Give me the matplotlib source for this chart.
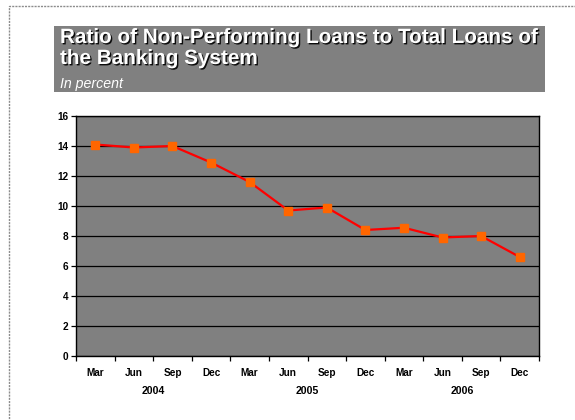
import numpy as np
import matplotlib
matplotlib.use("Agg")
import matplotlib.pyplot as plt
import matplotlib.patheffects as pe
from matplotlib.patches import Rectangle
from matplotlib.ticker import FixedLocator, MultipleLocator

plt.rcParams['font.family'] = ['Liberation Sans', 'DejaVu Sans']

# quarterly NPL ratio, percent
quarters = ["Mar", "Jun", "Sep", "Dec"] * 3
years = ["2004", "2005", "2006"]
npl_ratio = [14.1, 13.9, 14.0, 12.9, 11.6, 9.7, 9.9, 8.4, 8.55, 7.9, 8.0, 6.6]

W, H = 575, 420
fig = plt.figure(figsize=(W / 100, H / 100), dpi=100)


def px(x, y):
    # pixel position (from top-left) -> figure fraction
    return x / W, 1 - y / H


# dotted frame around the whole panel
frame = Rectangle(px(9, 440), (W + 20) / W, 434 / H, transform=fig.transFigure,
                  fill=False, edgecolor="#8c8c8c", linewidth=1.0,
                  linestyle=(0, (1.5, 0.8)))
fig.patches.append(frame)

# grey title banner
banner = Rectangle(px(54, 92), 491 / W, 66 / H, transform=fig.transFigure,
                   facecolor="#808080", edgecolor="none")
fig.patches.append(banner)

shadow = [pe.withSimplePatchShadow(offset=(1, -1), shadow_rgbFace="black",
                                   alpha=0.9)]
for line, y in [("Ratio of Non-Performing Loans to Total Loans of", 43),
                ("the Banking System", 64)]:
    fig.text(*px(60, y), line, color="white", fontsize=14.9,
             fontweight="bold", va="baseline", ha="left", path_effects=shadow)
fig.text(*px(60, 88), "In percent", color="white", fontsize=10.2,
         fontstyle="italic", va="baseline", ha="left")

ax = fig.add_axes([76 / W, (H - 356) / H, 463 / W, 240 / H])
ax.set_facecolor("#808080")

x = np.arange(len(npl_ratio))
ax.plot(x, npl_ratio, color="#ff0000", linewidth=1.6, marker="s",
        markersize=5.2, markerfacecolor="#ff6600", markeredgecolor="#ff6600",
        zorder=3)

ax.set_xlim(-0.5, len(x) - 0.5)
ax.set_ylim(0, 16)
ax.yaxis.set_major_locator(MultipleLocator(2))
ax.grid(axis="y", color="black", linewidth=0.9)
ax.set_axisbelow(True)

ax.set_xticks(x)
ax.set_xticklabels(quarters)
ax.xaxis.set_minor_locator(FixedLocator(np.arange(-0.5, len(x), 1.0)))
ax.tick_params(axis="x", which="major", length=0, pad=9,
               labelsize=7.2)
ax.tick_params(axis="x", which="minor", length=3.5, width=0.9,
               direction="out")
ax.tick_params(axis="y", length=3.5, width=0.9, direction="out",
               labelsize=7.2, pad=2)
for lab in ax.get_xticklabels() + ax.get_yticklabels():
    lab.set_fontweight("bold")

for sp in ax.spines.values():
    sp.set_color("black")
    sp.set_linewidth(1.0)

# year labels centred under each group of four quarters
for i, yr in enumerate(years):
    ax.text(i * 4 + 1.5, -0.145, yr, transform=ax.get_xaxis_transform(),
            ha="center", va="center", fontsize=7.6, fontweight="bold")

fig.savefig("out.png", dpi=100)
